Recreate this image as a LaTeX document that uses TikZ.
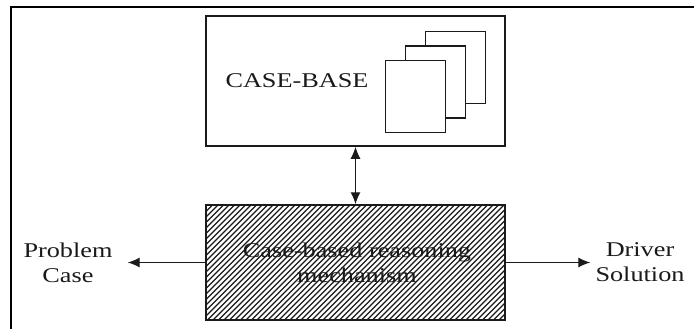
\documentclass[tikz,border=0pt]{standalone}
\usepackage{fontspec}
\setmainfont{Liberation Serif}
\usetikzlibrary{arrows.meta}
\definecolor{ink}{HTML}{1A1A1A}
\newcommand{\wide}[1]{\scalebox{1.25}[1]{#1}}
\begin{document}
\begin{tikzpicture}[x=1pt,y=-1pt,
  box/.style={draw=ink,line width=1.5pt,inner sep=0pt},
  page/.style={draw=ink,fill=white,line width=1.5pt,minimum width=60pt,minimum height=72pt,inner sep=0pt},
  lbl/.style={text=ink,align=center,inner sep=0pt,font=\fontsize{21}{25}\selectfont},
  tip/.tip={Latex[length=12pt,width=10pt]},
  link/.style={draw=ink,line width=1.2pt,-tip},
  both/.style={draw=ink,line width=1.2pt,tip-tip}]
  \useasboundingbox (0,0) rectangle (694,329);
  \fill[white] (0,0) rectangle (694,329);

  % outer frame (top and left rule)
  \draw[line width=2pt,line cap=rect] (11,7) -- (694,7);
  \draw[line width=2pt] (11,7) -- (11,329);

  % case base with its stack of case sheets
  \node[box,minimum width=299pt,minimum height=130pt] (cb) at (355.5,81) {};
  \node[page] (p3) at (455.7,67.5) {};
  \node[page] (p2) at (435.7,82.2) {};
  \node[page] (p1) at (415.7,96.5) {};
  \node[lbl] (cbt) at (297,81) {\wide{CASE-BASE}};

  % reasoning mechanism, hatched
  \begin{scope}
    \clip (206,205) rectangle (505,320);
    \foreach \k in {0,...,76} {
      \draw[ink,line width=1.3pt] (91+\k*5.5,321) -- ++(117,-117);
    }
  \end{scope}
  \node[box,minimum width=299pt,minimum height=115pt] (cbr) at (355.5,262.5) {};
  \node[lbl] (cbrt) at (357,262.5) {\wide{Case-based reasoning}\\\wide{mechanism}};

  % inputs and outputs
  \node[lbl] (pc) at (68,262.5) {\wide{Problem}\\\wide{Case}};
  \node[lbl] (ds) at (640,262.5) {\wide{Driver}\\\wide{Solution}};

  \draw[both] (cb.south) -- (cbr.north);
  \draw[link,shorten >=15pt] (cbr.west) -- (pc.east);
  \draw[link,shorten >=5pt] (cbr.east) -- (ds.west);
\end{tikzpicture}
\end{document}
